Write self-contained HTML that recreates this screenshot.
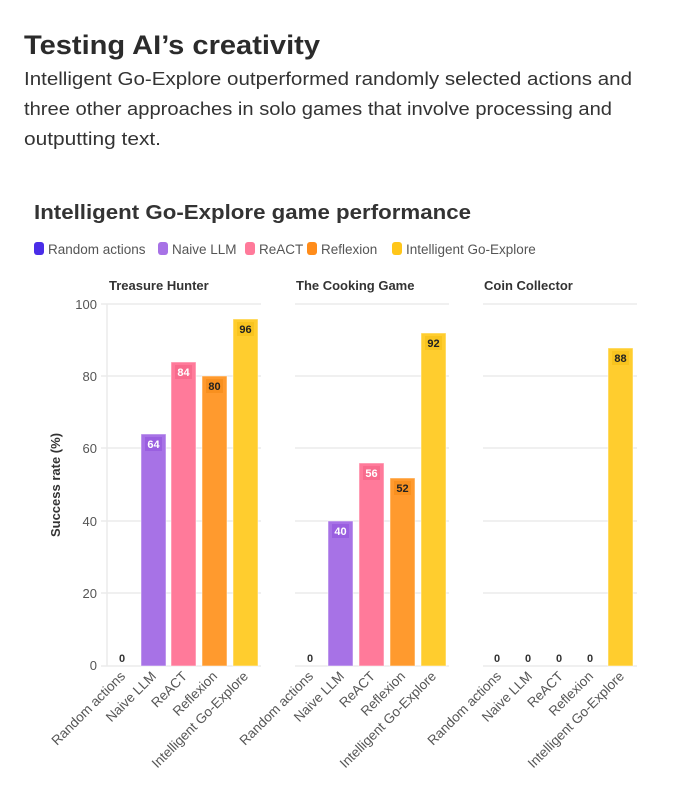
<!DOCTYPE html>
<html><head><meta charset="utf-8"><style>
body{margin:0;background:#fff;width:682px;height:800px;overflow:hidden;font-family:"Liberation Sans",sans-serif}
</style></head><body>
<svg width="682" height="800" xmlns="http://www.w3.org/2000/svg" font-family="Liberation Sans, sans-serif">
<text x="24" y="54" font-size="27" font-weight="bold" fill="#2b2b2b" textLength="296" lengthAdjust="spacingAndGlyphs">Testing AI’s creativity</text>
<text font-size="18" fill="#333"><tspan x="24" y="85" textLength="608" lengthAdjust="spacingAndGlyphs">Intelligent Go-Explore outperformed randomly selected actions and</tspan><tspan x="24" y="115" textLength="588" lengthAdjust="spacingAndGlyphs">three other approaches in solo games that involve processing and</tspan><tspan x="24" y="145" textLength="137" lengthAdjust="spacingAndGlyphs">outputting text.</tspan></text>
<text x="34" y="219" font-size="20" font-weight="bold" fill="#333" textLength="437" lengthAdjust="spacingAndGlyphs">Intelligent Go-Explore game performance</text>
<g font-size="13.5" fill="#555">
<rect x="34" y="242" width="10" height="13" rx="3" fill="#4a2de8"/><text x="48" y="254">Random actions</text>
<rect x="158" y="242" width="10" height="13" rx="3" fill="#a772e6"/><text x="172" y="254">Naive LLM</text>
<rect x="245" y="242" width="10" height="13" rx="3" fill="#ff7a9a"/><text x="259" y="254">ReACT</text>
<rect x="307" y="242" width="10" height="13" rx="3" fill="#ff8c1a"/><text x="321" y="254">Reflexion</text>
<rect x="392" y="242" width="10" height="13" rx="3" fill="#ffc61a"/><text x="406" y="254">Intelligent Go-Explore</text>
</g>
<g font-size="13" font-weight="bold" fill="#333">
<text x="109" y="290">Treasure Hunter</text><text x="296" y="290">The Cooking Game</text><text x="484" y="290">Coin Collector</text>
</g>
<g stroke="#ebebeb" stroke-width="1.5">
<line x1="101" y1="304" x2="261" y2="304"/><line x1="101" y1="376" x2="261" y2="376"/><line x1="101" y1="448" x2="261" y2="448"/><line x1="101" y1="521" x2="261" y2="521"/><line x1="101" y1="593" x2="261" y2="593"/>
<line x1="295" y1="304" x2="449" y2="304"/><line x1="295" y1="376" x2="449" y2="376"/><line x1="295" y1="448" x2="449" y2="448"/><line x1="295" y1="521" x2="449" y2="521"/><line x1="295" y1="593" x2="449" y2="593"/>
<line x1="483" y1="304" x2="637" y2="304"/><line x1="483" y1="376" x2="637" y2="376"/><line x1="483" y1="448" x2="637" y2="448"/><line x1="483" y1="521" x2="637" y2="521"/><line x1="483" y1="593" x2="637" y2="593"/>
<line x1="107" y1="304" x2="107" y2="666"/>
<line x1="101" y1="666" x2="261" y2="666"/><line x1="295" y1="666" x2="449" y2="666"/><line x1="483" y1="666" x2="637" y2="666"/>
</g>
<g font-size="13" fill="#555" text-anchor="end">
<text x="97" y="309">100</text><text x="97" y="381">80</text><text x="97" y="453">60</text><text x="97" y="526">40</text><text x="97" y="598">20</text><text x="97" y="670">0</text>
</g>
<text transform="translate(60,485) rotate(-90)" font-size="13" font-weight="bold" fill="#333" text-anchor="middle">Success rate (%)</text>
<g stroke="#fff" stroke-opacity="0.5" stroke-width="1">
<rect x="141" y="434" width="25" height="232" fill="#a772e6"/>
<rect x="171" y="362" width="25" height="304" fill="#ff7a9a"/>
<rect x="202" y="376" width="25" height="290" fill="#ff9a2e"/>
<rect x="233" y="319" width="25" height="347" fill="#ffcd2e"/>
<rect x="328" y="521" width="25" height="145" fill="#a772e6"/>
<rect x="359" y="463" width="25" height="203" fill="#ff7a9a"/>
<rect x="390" y="478" width="25" height="188" fill="#ff9a2e"/>
<rect x="421" y="333" width="25" height="333" fill="#ffcd2e"/>
<rect x="608" y="348" width="25" height="318" fill="#ffcd2e"/>
</g>
<g font-size="11" font-weight="bold" text-anchor="middle">
<rect x="145" y="437" width="17" height="14" fill="#9a5fe0"/><text x="153.5" y="448" fill="#fff">64</text>
<rect x="175" y="365" width="17" height="14" fill="#f86b8d"/><text x="183.5" y="376" fill="#fff">84</text>
<rect x="206" y="379" width="17" height="14" fill="#f8901f"/><text x="214.5" y="390" fill="#222">80</text>
<rect x="237" y="322" width="17" height="14" fill="#f8c41f"/><text x="245.5" y="333" fill="#222">96</text>
<rect x="332" y="524" width="17" height="14" fill="#9a5fe0"/><text x="340.5" y="535" fill="#fff">40</text>
<rect x="363" y="466" width="17" height="14" fill="#f86b8d"/><text x="371.5" y="477" fill="#fff">56</text>
<rect x="394" y="481" width="17" height="14" fill="#f8901f"/><text x="402.5" y="492" fill="#222">52</text>
<rect x="425" y="336" width="17" height="14" fill="#f8c41f"/><text x="433.5" y="347" fill="#222">92</text>
<rect x="612" y="351" width="17" height="14" fill="#f8c41f"/><text x="620.5" y="362" fill="#222">88</text>
<g fill="#333"><text x="122" y="662">0</text><text x="310" y="662">0</text><text x="497" y="662">0</text><text x="528" y="662">0</text><text x="559" y="662">0</text><text x="590" y="662">0</text></g>
</g>
<g font-size="13.5" fill="#555" text-anchor="end">
<g transform="translate(126,677) rotate(-45)"><text>Random actions</text></g>
<g transform="translate(157,677) rotate(-45)"><text>Naive LLM</text></g>
<g transform="translate(188,677) rotate(-45)"><text>ReACT</text></g>
<g transform="translate(218,677) rotate(-45)"><text>Reflexion</text></g>
<g transform="translate(249,677) rotate(-45)"><text>Intelligent Go-Explore</text></g>
<g transform="translate(314,677) rotate(-45)"><text>Random actions</text></g>
<g transform="translate(345,677) rotate(-45)"><text>Naive LLM</text></g>
<g transform="translate(376,677) rotate(-45)"><text>ReACT</text></g>
<g transform="translate(406,677) rotate(-45)"><text>Reflexion</text></g>
<g transform="translate(437,677) rotate(-45)"><text>Intelligent Go-Explore</text></g>
<g transform="translate(502,677) rotate(-45)"><text>Random actions</text></g>
<g transform="translate(533,677) rotate(-45)"><text>Naive LLM</text></g>
<g transform="translate(564,677) rotate(-45)"><text>ReACT</text></g>
<g transform="translate(594,677) rotate(-45)"><text>Reflexion</text></g>
<g transform="translate(625,677) rotate(-45)"><text>Intelligent Go-Explore</text></g>
</g>
</svg>
</body></html>
